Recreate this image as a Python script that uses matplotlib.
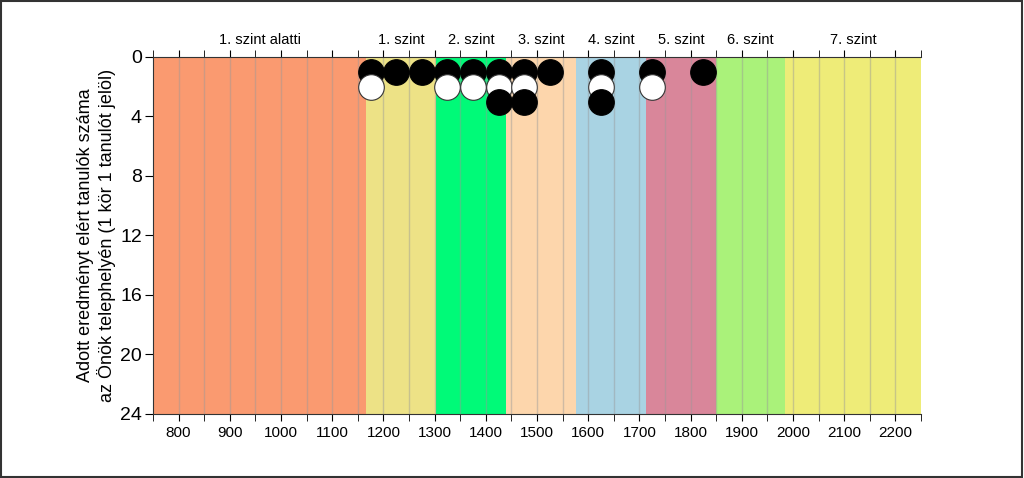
import numpy as np
import matplotlib.pyplot as plt
from matplotlib.patches import Rectangle

plt.rcParams['font.family'] = ['Liberation Sans', 'DejaVu Sans']

# szintek hatarai es szinei
szint_nevek = ['1. szint alatti', '1. szint', '2. szint', '3. szint',
               '4. szint', '5. szint', '6. szint', '7. szint']
szint_hatarok = [750, 1167, 1303, 1440, 1577, 1713, 1849, 1985, 2250]
szint_szinek = ['#FA9A70', '#EDE286', '#00FA78', '#FDD6AC',
                '#A9D3E3', '#D9869A', '#AAF27A', '#EEEC78']

# tanulok (kor kozeppontok)
fekete_x = [1175, 1225, 1275, 1325, 1375, 1425, 1475, 1525, 1625, 1725, 1825]
fekete_y = [1, 1, 1, 1, 1, 1, 1, 1, 1, 1, 1]
feher_x = [1175, 1325, 1375, 1425, 1475, 1625, 1725]
feher_y = [2, 2, 2, 2, 2, 2, 2]
fekete2_x = [1425, 1475, 1625]
fekete2_y = [3, 3, 3]

fig = plt.figure(figsize=(10.24, 4.78), dpi=100)
ax = fig.add_axes([0.1494, 0.1339, 0.75, 0.7469])

for i in range(len(szint_nevek)):
    x0 = szint_hatarok[i]
    x1 = szint_hatarok[i + 1]
    ax.add_patch(Rectangle((x0, 0), x1 - x0, 24, facecolor=szint_szinek[i],
                           edgecolor='none', zorder=0))
    ax.text((x0 + x1) / 2, -0.65, szint_nevek[i], ha='center', va='bottom',
            fontsize=10.5, clip_on=False)

# racsvonalak 50-enkent
for gx in np.arange(800, 2250, 50):
    ax.axvline(gx, color='#999999', alpha=0.45, linewidth=1, zorder=1)

ax.scatter(fekete_x, fekete_y, s=340, color='black', edgecolor='black',
           linewidth=0.8, zorder=3)
ax.scatter(feher_x, feher_y, s=340, color='white', edgecolor='#333333',
           linewidth=0.8, zorder=4)
ax.scatter(fekete2_x, fekete2_y, s=340, color='black', edgecolor='black',
           linewidth=0.8, zorder=5)

ax.set_xlim(750, 2250)
ax.set_ylim(24, 0)
ax.set_xticks(np.arange(800, 2201, 100))
ax.set_xticks(np.arange(750, 2251, 50), minor=True)
ax.set_yticks(np.arange(0, 25, 4))
ax.tick_params(axis='x', which='both', direction='out', length=5, labelsize=11,
               top=True, bottom=True)
ax.tick_params(axis='y', direction='out', length=6, labelsize=14, pad=2)

ax.spines['right'].set_visible(False)
ax.spines['left'].set_color('#333333')
ax.spines['bottom'].set_color('#333333')
ax.spines['top'].set_color('#333333')

ax.set_ylabel('Adott eredményt elért tanulók száma\naz Önök telephelyén (1 kör 1 tanulót jelöl)',
              fontsize=13, labelpad=3)

# keret a kep korul
fig.patches.append(Rectangle((0.001, 0.002), 0.997, 0.995, transform=fig.transFigure,
                             fill=False, edgecolor='#333333', linewidth=1.5))

fig.savefig('out.png', dpi=100)
